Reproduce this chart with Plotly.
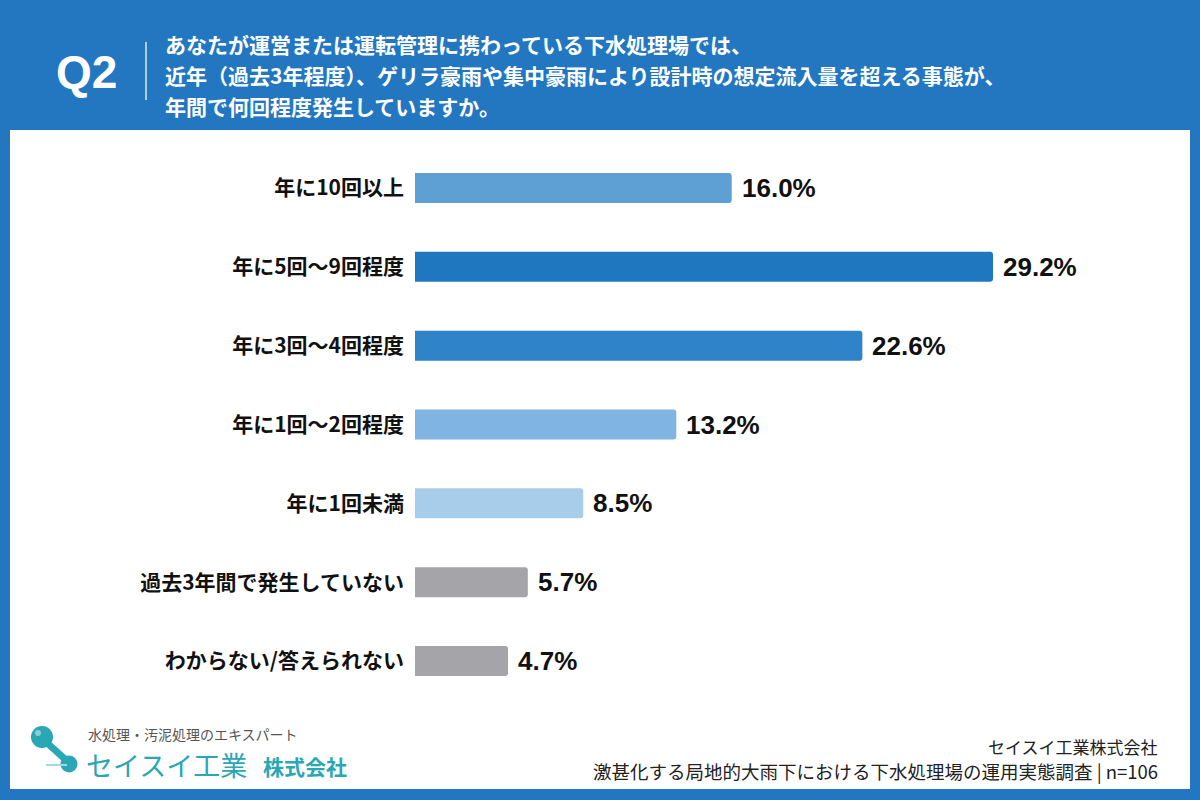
import plotly.graph_objects as go

categories = ["年に10回以上", "年に5回～9回程度", "年に3回～4回程度", "年に1回～2回程度",
              "年に1回未満", "過去3年間で発生していない", "わからない/答えられない"]
values = [16.0, 29.2, 22.6, 13.2, 8.5, 5.7, 4.7]
colors = ["#5fa0d4", "#1f77c0", "#2f83c9", "#80b4e2", "#a8cdea", "#a5a5a9", "#a5a5a9"]
value_labels = [f"{v:.1f}%" for v in values]

title_lines = ["あなたが運営または運転管理に携わっている下水処理場では、",
               "近年（過去3年程度）、ゲリラ豪雨や集中豪雨により設計時の想定流入量を超える事態が、",
               "年間で何回程度発生していますか。"]

W, H = 1200, 800
BLUE = "#2277c0"
TEAL = "#2aa7b4"
FONT = "Noto Sans CJK JP"

fig = go.Figure()
fig.add_trace(go.Bar(
    y=categories, x=values, orientation="h",
    marker=dict(color=colors, line=dict(width=0)),
    width=0.38,
    hoverinfo="skip",
))

x0_px, px_per = 415, 578 / 29.2
xmax = 35
x_dom = [x0_px / W, (x0_px + px_per * xmax) / W]
y_top, y_bot = 148.5, 700.5

fig.update_layout(
    width=W, height=H,
    margin=dict(l=0, r=0, t=0, b=0),
    paper_bgcolor=BLUE, plot_bgcolor="rgba(0,0,0,0)",
    showlegend=False,
    barcornerradius=3,
    font=dict(family=FONT),
    xaxis=dict(domain=x_dom, range=[0, xmax], visible=False, fixedrange=True),
    yaxis=dict(domain=[1 - y_bot / H, 1 - y_top / H], range=[6.5, -0.5],
               tickfont=dict(family=FONT, size=21, color="#111111", weight="bold"),
               ticks="", showgrid=False, showline=False, zeroline=False,
               ticklabelstandoff=10, automargin=False),
)

shapes = []
# white panel
shapes.append(dict(type="rect", xref="paper", yref="paper", layer="below",
                   x0=10 / W, x1=1190 / W, y0=1 - 789 / H, y1=1 - 130 / H,
                   fillcolor="white", line=dict(width=0)))
# header divider
shapes.append(dict(type="line", xref="paper", yref="paper",
                   x0=146 / W, x1=146 / W, y0=1 - 100 / H, y1=1 - 42 / H,
                   line=dict(color="rgba(255,255,255,0.85)", width=1.5)))
# logo mark
def circ(cx, cy, r, color=TEAL):
    return dict(type="circle", xref="paper", yref="paper",
                x0=(cx - r) / W, x1=(cx + r) / W, y0=1 - (cy + r) / H, y1=1 - (cy - r) / H,
                fillcolor=color, line=dict(width=0))
shapes.append(dict(type="line", xref="paper", yref="paper",
                   x0=46 / W, x1=66 / W, y0=1 - 742 / H, y1=1 - 760 / H,
                   line=dict(color=TEAL, width=7)))
shapes.append(circ(42, 737, 11))
shapes.append(circ(69, 764, 8.5))
shapes.append(circ(38, 733, 3, "rgba(255,255,255,0.45)"))
shapes.append(dict(type="line", xref="paper", yref="paper",
                   x0=46 / W, x1=67 / W, y0=1 - 765 / H, y1=1 - 765 / H,
                   line=dict(color="#9fdbe0", width=2)))
fig.update_layout(shapes=shapes)

ann = []
for cat, v, lab in zip(categories, values, value_labels):
    ann.append(dict(text=f"<b>{lab}</b>", x=v, y=cat, xref="x", yref="y",
                    showarrow=False, xanchor="left", yanchor="middle", xshift=8,
                    font=dict(family="Liberation Sans", size=26, color="#111111")))
ann.append(dict(text="<b>Q2</b>", x=86 / W, y=1 - 72 / H, xref="paper", yref="paper",
                showarrow=False, xanchor="center", yanchor="middle",
                font=dict(family="Liberation Sans", size=46, color="white")))
for i, line in enumerate(title_lines):
    ann.append(dict(text=line, x=163 / W, y=1 - (44 + 31 * i) / H, xref="paper", yref="paper",
                    showarrow=False, xanchor="left", yanchor="middle",
                    font=dict(family=FONT, size=21, color="white", weight="bold")))
ann.append(dict(text="水処理・汚泥処理のエキスパート", x=86 / W, y=1 - 734 / H, xref="paper", yref="paper",
                showarrow=False, xanchor="left", yanchor="middle",
                font=dict(family=FONT, size=14, color="#555555")))
ann.append(dict(text="セイスイ工業", x=84 / W, y=1 - 764 / H, xref="paper", yref="paper",
                showarrow=False, xanchor="left", yanchor="middle",
                font=dict(family=FONT, size=27, color=TEAL)))
ann.append(dict(text="株式会社", x=261 / W, y=1 - 766 / H, xref="paper", yref="paper",
                showarrow=False, xanchor="left", yanchor="middle",
                font=dict(family=FONT, size=21, color=TEAL, weight="bold")))
ann.append(dict(text="セイスイ工業株式会社", x=1160 / W, y=1 - 746 / H, xref="paper", yref="paper",
                showarrow=False, xanchor="right", yanchor="middle",
                font=dict(family=FONT, size=17, color="#222222")))
ann.append(dict(text="激甚化する局地的大雨下における下水処理場の運用実態調査 | n=106", x=1160 / W, y=1 - 771 / H,
                xref="paper", yref="paper", showarrow=False, xanchor="right", yanchor="middle",
                font=dict(family=FONT, size=18.5, color="#222222")))
fig.update_layout(annotations=ann)

fig.write_html("out.html")
